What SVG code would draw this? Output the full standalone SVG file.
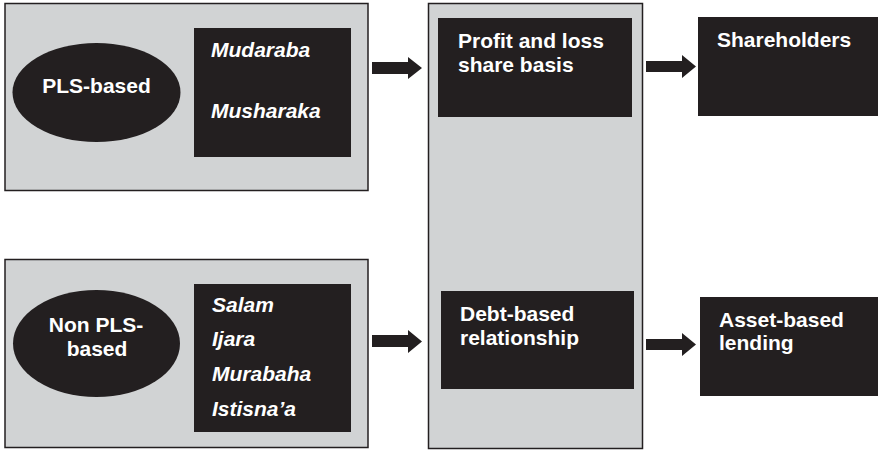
<svg xmlns="http://www.w3.org/2000/svg" width="878" height="451" viewBox="0 0 878 451">
<style>
.panel{fill:#d1d3d4;stroke:#231f20;stroke-width:1.5}
.dark{fill:#231f20}
.t{font-family:"Liberation Sans",Arial,sans-serif;font-weight:bold;font-size:21px;fill:#ffffff}
.i{font-style:italic}
.arrow{fill:#231f20}
</style>
<rect width="878" height="451" fill="#ffffff"/>
<g id="pls-group">
<rect class="panel" x="5" y="3.5" width="363" height="187"/>
<g id="pls-based">
<ellipse class="dark" cx="96.5" cy="92.5" rx="84" ry="49.5"/>
<text class="t" x="96.5" y="93" text-anchor="middle">PLS-based</text>
</g>
<g id="pls-contracts">
<rect class="dark" x="194" y="28" width="157" height="129"/>
<text class="t i" x="211" y="57">Mudaraba</text>
<text class="t i" x="211" y="118">Musharaka</text>
</g>
</g>
<g id="non-pls-group">
<rect class="panel" x="5" y="259.5" width="363" height="188"/>
<g id="non-pls-based">
<ellipse class="dark" cx="96.5" cy="343.5" rx="83.5" ry="53.5"/>
<text class="t" x="96" y="332" text-anchor="middle">Non PLS-</text>
<text class="t" x="97" y="356" text-anchor="middle">based</text>
</g>
<g id="non-pls-contracts">
<rect class="dark" x="194" y="284" width="157" height="148"/>
<text class="t i" x="212" y="312">Salam</text>
<text class="t i" x="212" y="346">Ijara</text>
<text class="t i" x="212" y="381">Murabaha</text>
<text class="t i" x="212" y="416">Istisna’a</text>
</g>
</g>
<g id="basis-group">
<rect class="panel" x="428.5" y="3.5" width="214" height="445"/>
<g id="profit-loss">
<rect class="dark" x="438" y="18" width="194" height="99"/>
<text class="t" x="458" y="48">Profit and loss</text>
<text class="t" x="458" y="72">share basis</text>
</g>
<g id="debt-based">
<rect class="dark" x="441" y="291" width="193" height="98"/>
<text class="t" x="460" y="321">Debt-based</text>
<text class="t" x="460" y="345">relationship</text>
</g>
</g>
<g id="shareholders">
<rect class="dark" x="698" y="17" width="180" height="99"/>
<text class="t" x="717" y="47">Shareholders</text>
</g>
<g id="asset-based">
<rect class="dark" x="700" y="297" width="178" height="99"/>
<text class="t" x="719" y="327">Asset-based</text>
<text class="t" x="719" y="350">lending</text>
</g>
<g id="connectors">
<polygon class="arrow" points="372,62 408,62 408,57 422,68 408,79 408,74 372,74"/>
<polygon class="arrow" points="372,335 408,335 408,330 422,341.5 408,353 408,347 372,347"/>
<polygon class="arrow" points="646,61 682,61 682,55 696,66.5 682,78 682,72 646,72"/>
<polygon class="arrow" points="646,339 682,339 682,333 696,344.5 682,356 682,350 646,350"/>
</g>
</svg>
